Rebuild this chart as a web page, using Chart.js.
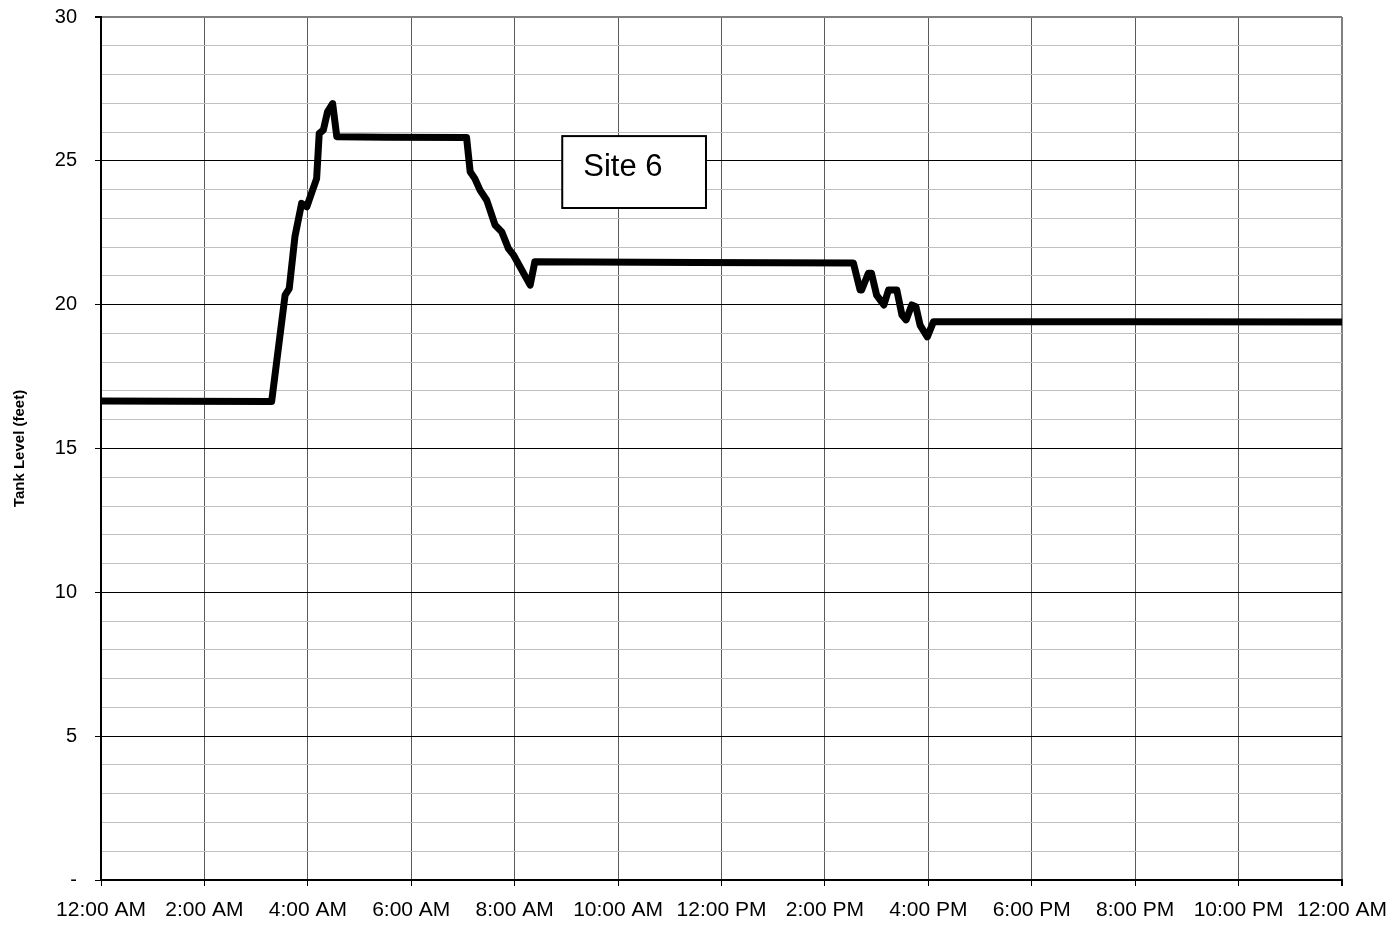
<!DOCTYPE html>
<html>
<head>
<meta charset="utf-8">
<title>Site 6 Tank Level</title>
<script src="https://cdn.jsdelivr.net/npm/chart.js@4.4.1/dist/chart.umd.min.js"></script>
<style>
    html, body { margin: 0; padding: 0; background: #fff; }
    #wrap { position: relative; width: 1395px; height: 926px; }
</style>
</head>
<body>
<div id="wrap"><canvas id="tank-chart"></canvas></div>
<script>
// Site 6 tank level over one day

// --- Data (time in hours after midnight, level in feet) ---
const timeHours = [
    0, 1.5, 3.30, 3.56, 3.64, 3.75, 3.88, 3.98, 4.08, 4.17, 4.22, 4.30, 4.38, 4.48, 4.56,
    5.5, 7.07, 7.14, 7.23, 7.33, 7.46, 7.62, 7.75, 7.88, 7.98, 8.30, 8.39,
    11.5, 14.55, 14.68, 14.71, 14.84, 14.90, 15.00, 15.14, 15.23, 15.39, 15.49, 15.57,
    15.68, 15.76, 15.84, 15.98, 16.10, 20, 24
];
const tankLevel = [
    16.65, 16.64, 16.63, 20.33, 20.56, 22.36, 23.52, 23.40, 23.92, 24.38, 25.95, 26.07, 26.70, 26.99, 25.84,
    25.82, 25.81, 24.62, 24.38, 23.98, 23.63, 22.77, 22.53, 21.95, 21.72, 20.68, 21.49,
    21.47, 21.45, 20.51, 20.51, 21.09, 21.09, 20.33, 19.99, 20.51, 20.51, 19.64, 19.47,
    19.99, 19.93, 19.29, 18.88, 19.41, 19.41, 19.40
];
const xTickLabels = [
    '12:00 AM', '2:00 AM', '4:00 AM', '6:00 AM', '8:00 AM', '10:00 AM', '12:00 PM',
    '2:00 PM', '4:00 PM', '6:00 PM', '8:00 PM', '10:00 PM', '12:00 AM'
];
const siteLabel = 'Site 6';
const siteBox = { xMin: 8.92, xMax: 11.70, yMin: 23.36, yMax: 25.86 };

const FONT = '"Liberation Sans", Arial, sans-serif';

// --- Annotation box plugin ---
const siteBoxPlugin = {
    id: 'siteBox',
    afterDatasetsDraw(chart) {
        const { ctx, scales: { x, y } } = chart;
        const left = x.getPixelForValue(siteBox.xMin);
        const right = x.getPixelForValue(siteBox.xMax);
        const top = y.getPixelForValue(siteBox.yMax);
        const bottom = y.getPixelForValue(siteBox.yMin);
        ctx.save();
        ctx.fillStyle = '#fff';
        ctx.fillRect(left, top, right - left, bottom - top);
        ctx.strokeStyle = '#000';
        ctx.lineWidth = 2;
        ctx.strokeRect(left, top, right - left, bottom - top);
        ctx.fillStyle = '#000';
        ctx.font = '31px ' + FONT;
        ctx.textAlign = 'left';
        ctx.textBaseline = 'alphabetic';
        ctx.fillText(siteLabel, left + 21, top + 40);
        ctx.restore();
    }
};

// --- Chart ---
const points = timeHours.map((t, i) => ({ x: t, y: tankLevel[i] }));

new Chart(document.getElementById('tank-chart').getContext('2d'), {
    type: 'line',
    data: {
        datasets: [{
            label: 'Tank Level',
            data: points,
            borderColor: '#000',
            borderWidth: 7,
            borderJoinStyle: 'round',
            pointRadius: 0,
            tension: 0,
            fill: false,
        }]
    },
    options: {
        responsive: true,
        maintainAspectRatio: false,
        animation: false,
        layout: { padding: { top: 17, right: 53, left: 0, bottom: 0 } },
        plugins: {
            legend: { display: false },
            tooltip: { enabled: false }
        },
        scales: {
            x: {
                type: 'linear',
                min: 0,
                max: 24,
                afterFit: (scale) => {
                    scale.height = 46;
                    scale.paddingLeft = 0;
                    scale.paddingRight = 0;
                },
                border: { color: '#000', width: 2 },
                grid: {
                    color: (c) => (c.tick && c.tick.value === 24) ? '#808080' : '#5a5a5a',
                    lineWidth: (c) => (c.tick && c.tick.value === 24) ? 2 : 1,
                    tickColor: '#000',
                    tickLength: 6,
                },
                ticks: {
                    stepSize: 2,
                    autoSkip: false,
                    maxRotation: 0,
                    color: '#000',
                    padding: 12,
                    font: { family: FONT, size: 21 },
                    callback: (value) => xTickLabels[Math.round(value / 2)]
                }
            },
            y: {
                min: 0,
                max: 30,
                afterFit: (scale) => {
                    scale.width = 101;
                    scale.paddingTop = 0;
                    scale.paddingBottom = 0;
                },
                border: { color: '#000', width: 2 },
                grid: {
                    color: (c) => {
                        const v = c.tick ? c.tick.value : 0;
                        if (v === 30) return '#808080';
                        return v % 5 === 0 ? '#000' : '#c0c0c0';
                    },
                    lineWidth: (c) => (c.tick && c.tick.value === 30) ? 2 : 1,
                    tickColor: (c) => (c.tick && c.tick.value % 5 === 0) ? '#000' : 'rgba(0,0,0,0)',
                    tickLength: 6,
                },
                ticks: {
                    stepSize: 1,
                    autoSkip: false,
                    color: '#000',
                    padding: 18,
                    font: { family: FONT, size: 20 },
                    callback: (value) => value % 5 !== 0 ? '' : (value === 0 ? '-' : value)
                },
                title: {
                    display: true,
                    text: 'Tank Level (feet)',
                    color: '#000',
                    padding: { top: 11, bottom: 0 },
                    font: { family: FONT, size: 15, weight: 'bold' }
                }
            }
        }
    },
    plugins: [siteBoxPlugin]
});
</script>
</body>
</html>
